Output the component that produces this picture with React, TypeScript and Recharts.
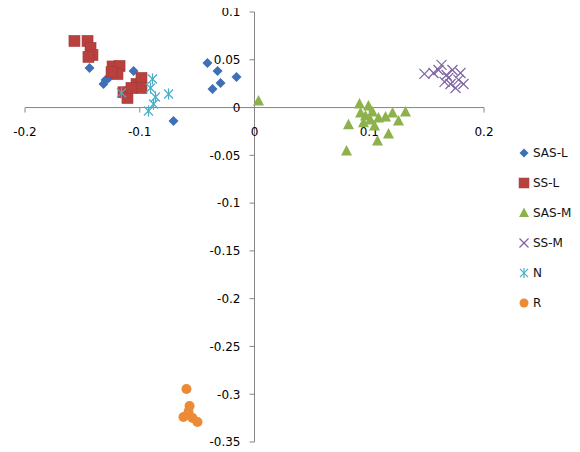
import React from 'react';
import { ScatterChart, Scatter, XAxis, YAxis, ReferenceLine, ReferenceDot, Legend } from 'recharts';

// ---- data ----
const seriesNames = ['SAS-L', 'SS-L', 'SAS-M', 'SS-M', 'N', 'R'];

const sasL = [
  { x: -0.1438, y: 0.0414 },
  { x: -0.1298, y: 0.0289 },
  { x: -0.1316, y: 0.0247 },
  { x: -0.127, y: 0.031 },
  { x: -0.1054, y: 0.0383 },
  { x: -0.1098, y: 0.0205 },
  { x: -0.0706, y: -0.014 },
  { x: -0.041, y: 0.0467 },
  { x: -0.0322, y: 0.0383 },
  { x: -0.0157, y: 0.032 },
  { x: -0.0296, y: 0.0257 },
  { x: -0.0366, y: 0.0195 },
];

const ssL = [
  { x: -0.1569, y: 0.0697 },
  { x: -0.1455, y: 0.0697 },
  { x: -0.1429, y: 0.0624 },
  { x: -0.1412, y: 0.055 },
  { x: -0.1447, y: 0.053 },
  { x: -0.1237, y: 0.043 },
  { x: -0.1176, y: 0.0435 },
  { x: -0.1194, y: 0.035 },
  { x: -0.1246, y: 0.037 },
  { x: -0.1142, y: 0.016 },
  { x: -0.1107, y: 0.01 },
  { x: -0.1028, y: 0.0247 },
  { x: -0.0985, y: 0.031 },
  { x: -0.0985, y: 0.0205 },
  { x: -0.1072, y: 0.0205 },
];

const sasM = [
  { x: 0.0035, y: 0.0069 },
  { x: 0.0915, y: 0.0038 },
  { x: 0.0993, y: 0.0017 },
  { x: 0.1028, y: -0.0046 },
  { x: 0.0967, y: -0.0088 },
  { x: 0.1081, y: -0.0109 },
  { x: 0.1142, y: -0.0098 },
  { x: 0.1203, y: -0.0057 },
  { x: 0.1316, y: -0.0046 },
  { x: 0.1255, y: -0.014 },
  { x: 0.0819, y: -0.018 },
  { x: 0.095, y: -0.016 },
  { x: 0.1046, y: -0.0193 },
  { x: 0.1168, y: -0.0276 },
  { x: 0.1072, y: -0.035 },
  { x: 0.0802, y: -0.0454 },
  { x: 0.101, y: -0.013 },
  { x: 0.0924, y: -0.0056 },
];

const ssM = [
  { x: 0.1481, y: 0.0352 },
  { x: 0.156, y: 0.0362 },
  { x: 0.163, y: 0.0446 },
  { x: 0.1673, y: 0.0341 },
  { x: 0.1725, y: 0.0393 },
  { x: 0.1795, y: 0.0362 },
  { x: 0.1656, y: 0.0268 },
  { x: 0.1708, y: 0.0247 },
  { x: 0.1778, y: 0.0289 },
  { x: 0.1752, y: 0.0205 },
  { x: 0.1821, y: 0.0247 },
  { x: 0.169, y: 0.031 },
  { x: 0.1603, y: 0.0393 },
];

const nSeries = [
  { x: -0.0889, y: 0.0299 },
  { x: -0.1159, y: 0.0153 },
  { x: -0.0863, y: 0.011 },
  { x: -0.0749, y: 0.0142 },
  { x: -0.0924, y: -0.0036 },
  { x: -0.0906, y: 0.0205 },
  { x: -0.088, y: 0.0037 },
];

const rSeries = [
  { x: -0.0593, y: -0.2945 },
  { x: -0.0566, y: -0.3123 },
  { x: -0.0575, y: -0.3185 },
  { x: -0.0619, y: -0.3238 },
  { x: -0.054, y: -0.3248 },
  { x: -0.0497, y: -0.329 },
];

const xTicks = [-0.2, -0.1, 0, 0.1, 0.2];
const xTickLabels = ['-0.2', '-0.1', '0', '0.1', '0.2'];
const yTicks = [0.1, 0.05, 0, -0.05, -0.1, -0.15, -0.2, -0.25, -0.3, -0.35];
const yTickLabels = ['0.1', '0.05', '0', '-0.05', '-0.1', '-0.15', '-0.2', '-0.25', '-0.3', '-0.35'];

// ---- styles ----
const COLORS = ['#3f6fb6', '#b8403d', '#8db24c', '#7e64a3', '#4aaec8', '#ec8a35'];
const AXIS = '#868686';
const FONT = '"DejaVu Sans", sans-serif';

type ShapeKind = 'diamond' | 'square' | 'triangle' | 'x' | 'star' | 'circle';
const KINDS: ShapeKind[] = ['diamond', 'square', 'triangle', 'x', 'star', 'circle'];

function marker(kind: ShapeKind, cx: number, cy: number, color: string, s = 1) {
  switch (kind) {
    case 'diamond': {
      const r = 5 * s;
      return <path d={`M${cx},${cy - r}L${cx + r},${cy}L${cx},${cy + r}L${cx - r},${cy}Z`} fill={color} />;
    }
    case 'square': {
      const h = 5.5 * s;
      return <rect x={cx - h} y={cy - h} width={2 * h} height={2 * h} fill={color} stroke="#a5393a" strokeWidth={0.6} />;
    }
    case 'triangle': {
      const w = 5.5 * s;
      return <path d={`M${cx},${cy - 6 * s}L${cx + w},${cy + 4.5 * s}L${cx - w},${cy + 4.5 * s}Z`} fill={color} />;
    }
    case 'x': {
      const h = 5 * s;
      return (
        <g stroke={color} strokeWidth={1.2}>
          <line x1={cx - h} y1={cy - h} x2={cx + h} y2={cy + h} />
          <line x1={cx - h} y1={cy + h} x2={cx + h} y2={cy - h} />
        </g>
      );
    }
    case 'star': {
      const h = 4.5 * s;
      return (
        <g stroke={color} strokeWidth={1.2}>
          <line x1={cx - h} y1={cy - h} x2={cx + h} y2={cy + h} />
          <line x1={cx - h} y1={cy + h} x2={cx + h} y2={cy - h} />
          <line x1={cx} y1={cy - h * 1.25} x2={cx} y2={cy + h * 1.25} />
        </g>
      );
    }
    default:
      return <circle cx={cx} cy={cy} r={5 * s} fill={color} />;
  }
}

const makeShape = (i: number) => (props: any) => {
  const { cx, cy } = props;
  if (cx == null || cy == null) return <g />;
  return marker(KINDS[i], cx, cy, COLORS[i]);
};

const xTickShape = (label: string) => (props: any) => {
  const { cx, cy } = props;
  return (
    <g>
      <line x1={cx} y1={cy} x2={cx} y2={cy + 5} stroke={AXIS} strokeWidth={1} />
      <text x={cx} y={cy + 28} textAnchor="middle" fontFamily={FONT} fontSize={12} fill="#000">
        {label}
      </text>
    </g>
  );
};

const yTickShape = (label: string) => (props: any) => {
  const { cx, cy } = props;
  return (
    <g>
      <line x1={cx - 5} y1={cy} x2={cx} y2={cy} stroke={AXIS} strokeWidth={1} />
      <text x={cx - 14} y={cy} dy="0.36em" textAnchor="end" fontFamily={FONT} fontSize={12} fill="#000">
        {label}
      </text>
    </g>
  );
};

const renderLegend = () => (
  <div style={{ fontFamily: FONT, fontSize: 12, color: '#111', whiteSpace: 'nowrap', overflow: 'visible' }}>
    {seriesNames.map((name, i) => (
      <div key={name} style={{ height: 30, display: 'flex', alignItems: 'center' }}>
        <svg width={14} height={14} style={{ display: 'block', flexShrink: 0 }}>
          {marker(KINDS[i], 7, 7, COLORS[i], 0.9)}
        </svg>
        <span style={{ marginLeft: 2 }}>{name}</span>
      </div>
    ))}
  </div>
);

const allSeries = [sasL, ssL, sasM, ssM, nSeries, rSeries];

export default function App() {
  return (
    <div style={{ width: 580, height: 452, position: 'relative', margin: '-8px 0 0 -8px' }}>
      <ScatterChart width={580} height={452} margin={{ top: 12, right: 96, bottom: 10, left: 25 }}>
        <XAxis type="number" dataKey="x" domain={[-0.2, 0.2]} hide allowDataOverflow />
        <YAxis type="number" dataKey="y" domain={[-0.35, 0.1]} hide allowDataOverflow />
        <ReferenceLine
          segment={[{ x: -0.2, y: 0 }, { x: 0.2, y: 0 }]}
          stroke={AXIS}
          strokeWidth={1}
          ifOverflow="visible"
        />
        <ReferenceLine
          segment={[{ x: 0, y: 0.1 }, { x: 0, y: -0.35 }]}
          stroke={AXIS}
          strokeWidth={1}
          ifOverflow="visible"
        />
        {xTicks.map((v, i) => (
          <ReferenceDot key={'xt' + i} x={v} y={0} r={0} ifOverflow="visible" shape={xTickShape(xTickLabels[i])} />
        ))}
        {yTicks.map((v, i) => (
          <ReferenceDot key={'yt' + i} x={0} y={v} r={0} ifOverflow="visible" shape={yTickShape(yTickLabels[i])} />
        ))}
        {allSeries.map((data, i) => (
          <Scatter
            key={seriesNames[i]}
            name={seriesNames[i]}
            data={data}
            fill={COLORS[i]}
            shape={makeShape(i)}
            isAnimationActive={false}
          />
        ))}
        <Legend
          layout="vertical"
          align="center"
          verticalAlign="middle"
          content={renderLegend}
          wrapperStyle={{ position: 'absolute', left: 517, top: 138, width: 63, height: 180, overflow: 'visible' }}
        />
      </ScatterChart>
    </div>
  );
}
